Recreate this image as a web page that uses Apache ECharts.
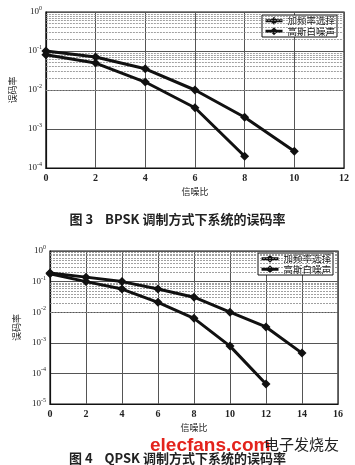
<!DOCTYPE html>
<html lang="zh">
<head>
    <meta charset="UTF-8">
    <title>BPSK / QPSK 误码率</title>
    <script src="https://cdn.jsdelivr.net/npm/echarts@6/dist/echarts.min.js"></script>
    <style>
        html, body { margin: 0; padding: 0; background: #fff; }
    </style>
</head>
<body>
<div id="main" style="width: 355px; height: 465px;"></div>
<script>
    // 数据
    var legendNames = ['加频率选择', '高斯白噪声'];

    var bpskX = [0, 2, 4, 6, 8, 10];
    var bpskFreq = [0.1, 0.07, 0.035, 0.01, 0.002, 0.00027];
    var bpskAwgn = [0.08, 0.049, 0.016, 0.0035, 0.0002];

    var qpskX = [0, 2, 4, 6, 8, 10, 12, 14];
    var qpskFreq = [0.19, 0.14, 0.1, 0.057, 0.031, 0.01, 0.0033, 0.00046];
    var qpskAwgn = [0.18, 0.1, 0.057, 0.021, 0.0063, 0.00078, 0.000045];

    function pairs(xs, ys) {
        return ys.map(function (y, i) { return [xs[i], y]; });
    }

    // 对数坐标的次网格线 (2..9 x 10^n)
    function minorLines(lo, hi) {
        var out = [];
        for (var d = lo; d < hi; d++) {
            for (var k = 2; k <= 9; k++) {
                out.push({ yAxis: k * Math.pow(10, d) });
            }
        }
        return out;
    }

    var serifFont = '"Liberation Serif", "DejaVu Serif", serif';
    var cjkFont = '"Noto Sans CJK SC", sans-serif';

    function yLabel(v) {
        var e = Math.round(Math.log10(v));
        return '{b|10}{s|' + e + '}';
    }

    function yAxisOpt(idx, min) {
        return {
            type: 'log',
            gridIndex: idx,
            min: min,
            max: 1,
            logBase: 10,
            name: '误码率',
            nameLocation: 'middle',
            nameRotate: 90,
            nameGap: idx === 0 ? 22 : 29,
            nameTextStyle: { fontFamily: cjkFont, fontSize: 9, color: '#222' },
            axisLine: { show: true, lineStyle: { color: '#111', width: 1.2 } },
            axisTick: { show: false },
            axisLabel: {
                formatter: yLabel,
                margin: 4,
                rich: {
                    b: { fontFamily: serifFont, fontSize: 9, color: '#222' },
                    s: { fontFamily: serifFont, fontSize: 6, color: '#222', padding: [0, 0, 7, 0] }
                }
            },
            splitLine: { show: true, lineStyle: { color: '#555', width: 1 } }
        };
    }

    function xAxisOpt(idx, max) {
        return {
            type: 'value',
            gridIndex: idx,
            min: 0,
            max: max,
            interval: 2,
            name: '信噪比',
            nameLocation: 'middle',
            nameGap: 19,
            nameTextStyle: { fontFamily: cjkFont, fontSize: 9, color: '#222' },
            axisLine: { show: true, lineStyle: { color: '#111', width: 1.2 } },
            axisTick: { show: false },
            axisLabel: { fontFamily: serifFont, fontSize: 10, fontWeight: 'bold', color: '#222', margin: 5 },
            splitLine: { show: true, lineStyle: { color: '#555', width: 1 } }
        };
    }

    function curve(name, data, idx) {
        return {
            name: name,
            type: 'line',
            xAxisIndex: idx,
            yAxisIndex: idx,
            data: data,
            symbol: 'diamond',
            symbolSize: 9,
            z: 5,
            lineStyle: { color: '#111', width: 3 },
            itemStyle: { color: '#111' }
        };
    }

    function gridHelper(idx, lo) {
        return {
            type: 'line',
            xAxisIndex: idx,
            yAxisIndex: idx,
            data: [],
            silent: true,
            z: 1,
            markLine: {
                silent: true,
                symbol: 'none',
                label: { show: false },
                animation: false,
                lineStyle: { color: '#888', width: 0.8, type: [2, 1] },
                data: minorLines(lo, 0)
            }
        };
    }

    function legendOpt(left, top) {
        return {
            data: legendNames,
            orient: 'vertical',
            left: left,
            top: top,
            padding: [1, 2],
            itemGap: 1,
            itemWidth: 17,
            itemHeight: 10,
            lineStyle: { width: 3, color: '#111' },
            backgroundColor: '#fff',
            borderColor: '#111',
            borderWidth: 1,
            textStyle: { fontFamily: cjkFont, fontSize: 9.5, color: '#111' }
        };
    }

    var chart = echarts.init(document.getElementById('main'));
    chart.setOption({
        animation: false,
        backgroundColor: '#fff',
        title: [
            {
                text: '图 3    BPSK 调制方式下系统的误码率',
                left: 'center',
                top: 208,
                textStyle: { fontFamily: cjkFont, fontSize: 13, fontWeight: 'bold', color: '#222' }
            },
            {
                text: '图 4    QPSK 调制方式下系统的误码率',
                left: 'center',
                top: 447,
                textStyle: { fontFamily: cjkFont, fontSize: 13, fontWeight: 'bold', color: '#222' }
            }
        ],
        graphic: [
            {
                type: 'text',
                left: 150,
                top: 436,
                z: 100,
                style: { text: 'elecfans.com', fill: '#e3231c', font: 'bold 19px "Liberation Sans", Arial, sans-serif' }
            },
            {
                type: 'text',
                left: 264,
                top: 437,
                z: 100,
                style: { text: '电子发烧友', fill: '#222', font: '15px "Noto Sans CJK SC", sans-serif' }
            }
        ],
        legend: [legendOpt(262, 15), legendOpt(258, 253)],
        grid: [
            { left: 39, top: 12, right: 11, height: 156, show: true, borderColor: '#111', borderWidth: 1.2 },
            { left: 50, top: 251, right: 17, height: 153, show: true, borderColor: '#111', borderWidth: 1.2 }
        ],
        xAxis: [xAxisOpt(0, 12), xAxisOpt(1, 16)],
        yAxis: [yAxisOpt(0, 1e-4), yAxisOpt(1, 1e-5)],
        series: [
            gridHelper(0, -4),
            gridHelper(1, -5),
            curve(legendNames[0], pairs(bpskX, bpskFreq), 0),
            curve(legendNames[1], pairs(bpskX, bpskAwgn), 0),
            curve(legendNames[0], pairs(qpskX, qpskFreq), 1),
            curve(legendNames[1], pairs(qpskX, qpskAwgn), 1)
        ]
    });
</script>
</body>
</html>
